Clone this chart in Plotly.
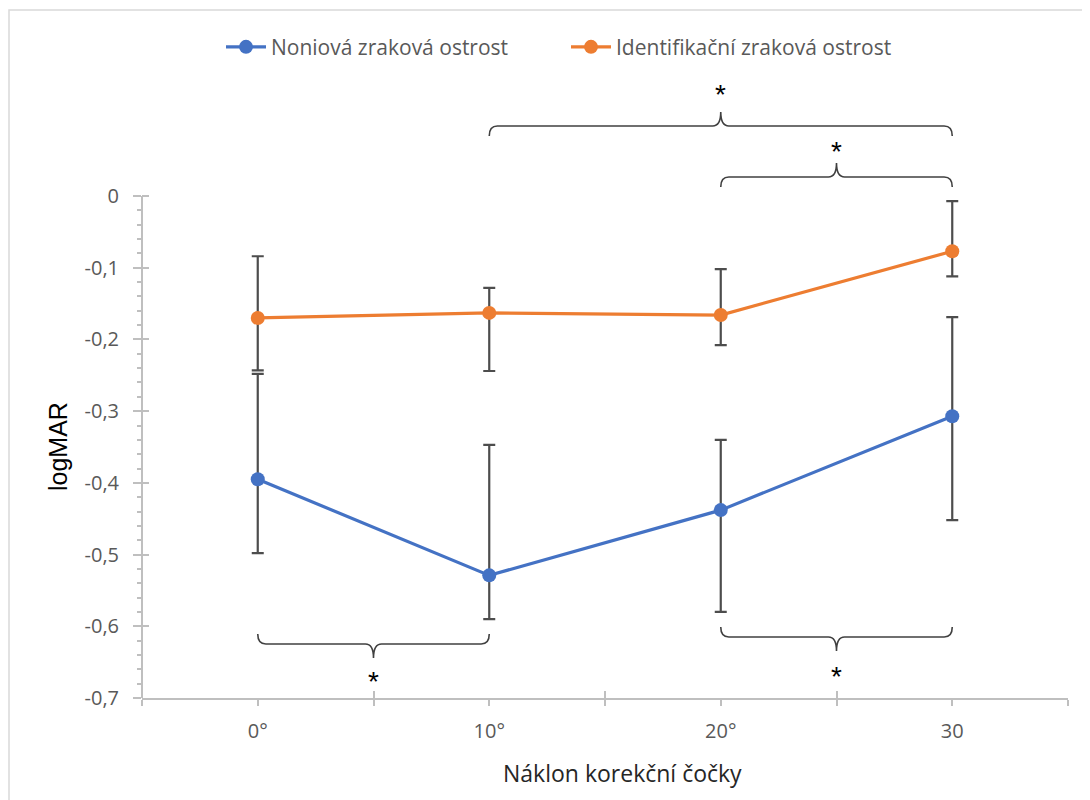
import plotly.graph_objects as go

# ---- data ----
x_vals = [0, 10, 20, 30]
tick_text = {0: "0°", 10: "10°", 20: "20°", 30: "30"}

noni_name = "Noniová zraková ostrost"
noni_y = [-0.395, -0.529, -0.438, -0.307]
noni_hi = [-0.248, -0.347, -0.340, -0.169]
noni_lo = [-0.498, -0.590, -0.580, -0.452]

ident_name = "Identifikační zraková ostrost"
ident_y = [-0.170, -0.163, -0.166, -0.077]
ident_hi = [-0.084, -0.128, -0.102, -0.007]
ident_lo = [-0.243, -0.244, -0.208, -0.112]

y_ticks = [0, -0.1, -0.2, -0.3, -0.4, -0.5, -0.6, -0.7]
y_tick_text = ["0", "-0,1", "-0,2", "-0,3", "-0,4", "-0,5", "-0,6", "-0,7"]

# significance braces: (x start, x end, bar y, direction, asterisk y)
braces = [
    (10, 30, 0.0976, 1, 0.1506),
    (20, 30, 0.0265, 1, 0.0711),
    (0, 10, -0.6248, -1, -0.669),
    (20, 30, -0.6150, -1, -0.661),
]

BLUE = "#4472C4"
ORANGE = "#ED7D31"
GRAY_AX = "#BFBFBF"
TXT = "#595959"
ERR = "#4D4D4D"

fig = go.Figure()

def add_series(name, y, hi, lo, color):
    fig.add_trace(go.Scatter(
        x=x_vals, y=y, name=name, mode="lines+markers",
        line=dict(color=color, width=3.2),
        marker=dict(color=color, size=14),
        error_y=dict(type="data", symmetric=False,
                     array=[h - v for h, v in zip(hi, y)],
                     arrayminus=[v - l for l, v in zip(lo, y)],
                     color=ERR, thickness=2.2, width=6),
    ))

add_series(noni_name, noni_y, noni_hi, noni_lo, BLUE)
add_series(ident_name, ident_y, ident_hi, ident_lo, ORANGE)

shapes = []
annotations = []

# y axis line only from -0.7 to 0
shapes.append(dict(type="line", xref="paper", yref="y", x0=0, x1=0, y0=-0.7, y1=0,
                   line=dict(color=GRAY_AX, width=2), layer="below"))

# braces
dx = 0.35
for (a, b, yh, d, ya) in braces:
    m = (a + b) / 2
    end = yh - d * 0.0139
    tip = yh + d * 0.0195
    path = (f"M {a},{end} Q {a},{yh} {a+dx},{yh} L {m-dx},{yh} "
            f"Q {m},{yh} {m},{tip} Q {m},{yh} {m+dx},{yh} "
            f"L {b-dx},{yh} Q {b},{yh} {b},{end}")
    shapes.append(dict(type="path", xref="x", yref="y", path=path,
                       line=dict(color="#404040", width=1.6)))
    annotations.append(dict(x=m, y=ya, xref="x", yref="y", text="*",
                            showarrow=False, yshift=-6,
                            font=dict(size=28, color="#000000",
                                      family="Liberation Sans")))

# outer frame (top and left edges visible)
shapes.append(dict(type="rect", xref="paper", yref="paper",
                   x0=(9 - 142) / 926, x1=1.2, y0=-0.3, y1=(698 - 10) / 617,
                   line=dict(color="#D9D9D9", width=1.5), layer="below"))

# y-axis title
annotations.append(dict(x=(58 - 142) / 926, y=(698 - 447) / 617, xref="paper", yref="paper",
                        text="logMAR", showarrow=False, textangle=-90,
                        xanchor="center", yanchor="middle",
                        font=dict(size=25, color="#000000", family="Liberation Sans")))
# x-axis title
annotations.append(dict(x=(622 - 142) / 926, y=(698 - 773) / 617, xref="paper", yref="paper",
                        text="Náklon korekční čočky", showarrow=False,
                        xanchor="center", yanchor="middle",
                        font=dict(size=23, color="#262626", family="Open Sans")))

fig.update_layout(
    width=1090, height=800,
    margin=dict(l=134, r=30, t=73, b=110),
    paper_bgcolor="white", plot_bgcolor="white",
    font=dict(family="Open Sans", color=TXT, size=20),
    separators=",.",
    showlegend=True,
    legend=dict(orientation="h", x=(566 - 142) / 926, xanchor="center",
                y=0.951, yanchor="middle", yref="container",
                font=dict(size=21, color=TXT), entrywidth=290,
                itemwidth=40, traceorder="normal"),
    xaxis=dict(range=[-5, 35], tickmode="array",
               tickvals=[-5, 0, 5, 10, 15, 20, 25, 30, 35],
               ticktext=["", tick_text[0], "", tick_text[10], "", tick_text[20], "", tick_text[30], ""],
               ticks="outside", ticklen=6, tickwidth=2, tickcolor=GRAY_AX,
               showline=True, linecolor=GRAY_AX, linewidth=2,
               showgrid=False, zeroline=False, ticklabelstandoff=8,
               tickfont=dict(size=20, color=TXT)),
    xaxis2=dict(range=[-5, 35], overlaying="x", anchor="y", side="bottom",
                tickmode="array", tickvals=[5, 15, 25, 35], ticktext=["", "", "", ""],
                ticks="inside", ticklen=7, tickwidth=2, tickcolor=GRAY_AX,
                showline=False, showgrid=False, zeroline=False),
    yaxis=dict(range=[-0.7, 0.1604], tickmode="array", tickvals=y_ticks,
               ticktext=y_tick_text, ticks="outside", ticklen=8, tickwidth=2,
               tickcolor=GRAY_AX, showline=False, showgrid=False, zeroline=False,
               tickfont=dict(size=20, color=TXT), ticklabelstandoff=10,
               minor=dict(tickmode="array",
                          tickvals=[round(-0.02 * i, 2) for i in range(0, 36) if i % 5 != 0],
                          ticks="outside", ticklen=4, tickwidth=1.5, tickcolor=GRAY_AX)),
    yaxis2=dict(range=[-0.7, 0.1604], overlaying="y", anchor="x", side="left",
                tickmode="array", tickvals=y_ticks, ticktext=[""] * len(y_ticks),
                ticks="inside", ticklen=7, tickwidth=2, tickcolor=GRAY_AX,
                showline=False, showgrid=False, zeroline=False),
    shapes=shapes,
    annotations=annotations,
)

# invisible trace to activate the overlay axes
fig.add_trace(go.Scatter(x=[None], y=[None], xaxis="x2", yaxis="y2",
                         showlegend=False, hoverinfo="skip"))

fig.write_html("out.html")
